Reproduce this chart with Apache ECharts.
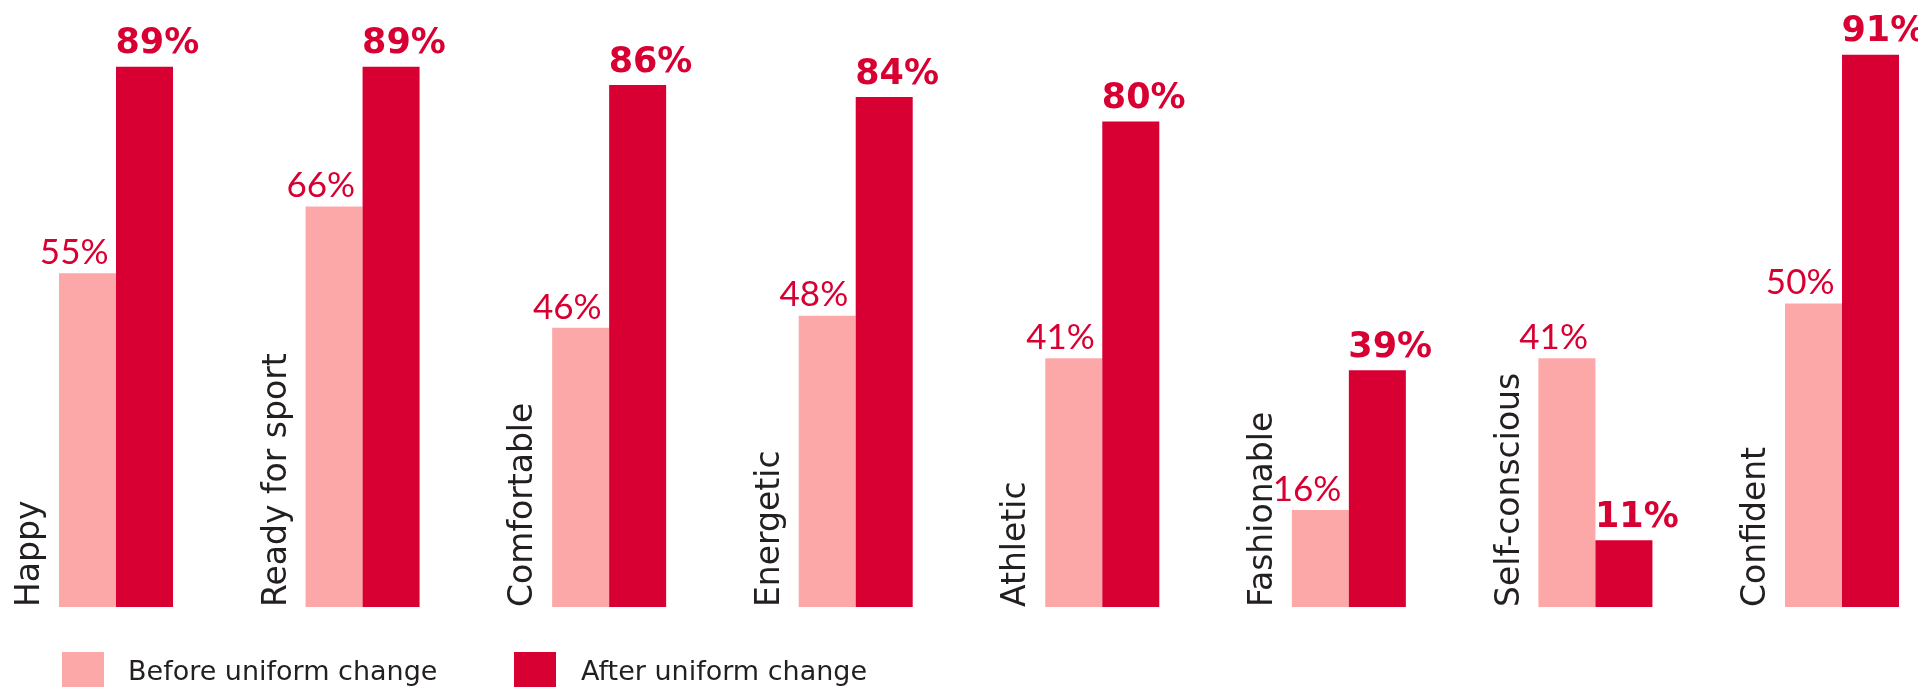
<!DOCTYPE html>
<html>
<head>
<meta charset="utf-8">
<script src="https://cdn.jsdelivr.net/npm/echarts@6/dist/echarts.min.js"></script>
<style>
  html, body { margin: 0; padding: 0; background: #fff; }
  #chart { width: 1918px; height: 687px; }
</style>
</head>
<body>
<div id="chart"></div>
<script>
// data
var categories = ['Happy', 'Ready for sport', 'Comfortable', 'Energetic', 'Athletic', 'Fashionable', 'Self-conscious', 'Confident'];
var beforeValues = [55, 66, 46, 48, 41, 16, 41, 50];
var afterValues = [89, 89, 86, 84, 80, 39, 11, 91];
var seriesNames = ['Before uniform change', 'After uniform change'];

var pink = '#FDA8A8';
var red = '#D80033';
var font = 'Lato';
var wideFont = 'DejaVu Sans';

var myChart = echarts.init(document.getElementById('chart'));

var option = {
	backgroundColor: '#fff',
	animation: false,
	legend: [
		{
			data: [seriesNames[0]],
			left: 62,
			top: 652,
			padding: 0,
			icon: 'rect',
			itemWidth: 42,
			itemHeight: 42,
			textStyle: { fontFamily: wideFont, fontSize: 27, color: '#231f20', padding: [0, 0, 0, 19] }
		},
		{
			data: [seriesNames[1]],
			left: 514,
			top: 652,
			padding: 0,
			icon: 'rect',
			itemWidth: 42,
			itemHeight: 42,
			textStyle: { fontFamily: wideFont, fontSize: 27, color: '#231f20', padding: [0, 0, 0, 20] }
		}
	],
	grid: {
		left: 116,
		right: 76,
		top: 0,
		bottom: 80,
		outerBoundsMode: 'none'
	},
	xAxis: {
		type: 'category',
		data: categories,
		boundaryGap: false,
		axisLine: { show: false },
		axisTick: { show: false },
		splitLine: { show: false },
		axisLabel: {
			inside: true,
			interval: 0,
			rotate: 90,
			margin: 0,
			align: 'left',
			verticalAlign: 'bottom',
			padding: [0, 0, 69, 0],
			fontFamily: wideFont,
			fontSize: 33,
			color: '#231f20'
		}
	},
	yAxis: {
		type: 'value',
		min: 0,
		max: 100,
		show: false
	},
	series: [
		{
			name: seriesNames[0],
			type: 'bar',
			data: beforeValues,
			barWidth: 57,
			barGap: '0%',
			itemStyle: { color: pink },
			label: {
				show: true,
				position: 'top',
				distance: 3,
				align: 'right',
				offset: [21, 0],
				formatter: '{c}%',
				fontFamily: font,
				fontSize: 35,
				color: red
			}
		},
		{
			name: seriesNames[1],
			type: 'bar',
			data: afterValues,
			barWidth: 57,
			barGap: '0%',
			itemStyle: { color: red },
			label: {
				show: true,
				position: 'top',
				distance: 5,
				align: 'left',
				offset: [-29, 0],
				formatter: '{c}%',
				fontFamily: wideFont,
				fontWeight: 'bold',
				fontSize: 35,
				color: red
			}
		}
	]
};

myChart.setOption(option);

window.addEventListener('resize', function () {
	myChart.resize();
});
</script>
</body>
</html>
